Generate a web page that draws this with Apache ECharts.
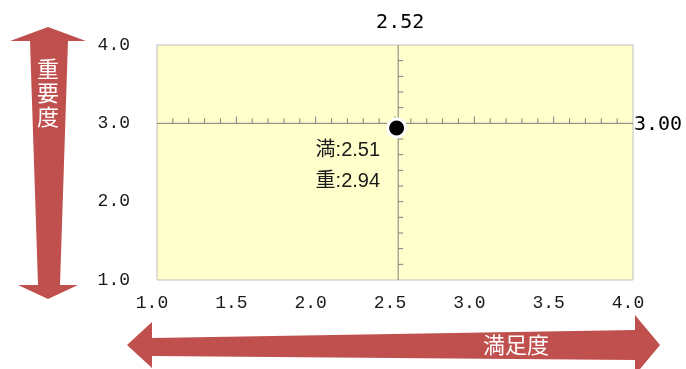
<!DOCTYPE html>
<html><head><meta charset="utf-8">
<script src="https://cdn.jsdelivr.net/npm/echarts@6/dist/echarts.min.js"></script>
<style>html,body{margin:0;padding:0;background:#fff}#c{width:686px;height:369px}</style>
</head><body><div id="c"></div>
<script>
// ---- data ----
const xAxisTitle = '満足度';
const yAxisTitle = '重要度';
const xTickLabels = ['1.0','1.5','2.0','2.5','3.0','3.5','4.0'];
const yTickLabels = ['1.0','2.0','3.0','4.0'];
const satisfaction = [2.51];
const importance = [2.94];
const avgSatisfaction = 2.52;
const avgImportance = 3.00;

const AX_MIN = 1, AX_MAX = 4;
const RED = '#C0504D';
const cjkFont = '"Noto Sans CJK JP", sans-serif';

const chart = echarts.init(document.getElementById('c'));

function renderCross(params, api) {
  const cx = api.value(0), cy = api.value(1);
  const cs = params.coordSys;
  const c = api.coord([cx, cy]);
  const left = cs.x, right = cs.x + cs.width, top = cs.y, bottom = cs.y + cs.height;
  const lineStyle = { stroke: '#7F7F7F', lineWidth: 1 };
  const children = [];
  children.push({ type: 'line', shape: { x1: left, y1: c[1], x2: right, y2: c[1] }, style: lineStyle });
  children.push({ type: 'line', shape: { x1: c[0], y1: top, x2: c[0], y2: bottom }, style: lineStyle });
  // ticks along horizontal crosshair every 0.1 (longer at 0.5)
  for (let i = 1; i < 30; i++) {
    const v = AX_MIN + i * 0.1;
    const p = api.coord([v, cy]);
    const len = (i % 5 === 0) ? 7 : 5;
    children.push({ type: 'line', shape: { x1: p[0], y1: c[1], x2: p[0], y2: c[1] - len }, style: lineStyle });
  }
  // ticks along vertical crosshair every 0.2
  for (let i = 1; i < 15; i++) {
    const v = AX_MIN + i * 0.2;
    const p = api.coord([cx, v]);
    children.push({ type: 'line', shape: { x1: c[0], y1: p[1], x2: c[0] + 5, y2: p[1] }, style: lineStyle });
  }
  const labFont = '20px "DejaVu Sans Mono", monospace';
  children.push({ type: 'text', style: { text: cx.toFixed(2), x: c[0] + 2, y: top - 22, textAlign: 'center', textVerticalAlign: 'middle', font: labFont, fill: '#000' } });
  children.push({ type: 'text', style: { text: cy.toFixed(2), x: right + 1, y: c[1] + 1, textAlign: 'left', textVerticalAlign: 'middle', font: labFont, fill: '#000' } });
  return { type: 'group', children };
}

const option = {
  animation: false,
  grid: { left: 157, right: 53, top: 45, bottom: 89, show: true, backgroundColor: '#FFFFCC', borderColor: '#BFBFBF', borderWidth: 1 },
  xAxis: {
    type: 'value', min: AX_MIN, max: AX_MAX, interval: 0.5,
    axisLine: { show: false }, axisTick: { show: false }, splitLine: { show: false },
    axisLabel: { margin: 14, color: '#1a1a1a', fontFamily: 'Liberation Mono', fontSize: 18, padding: [0, 10, 0, 0],
      formatter: v => xTickLabels[Math.round((v - AX_MIN) / 0.5)] }
  },
  yAxis: {
    type: 'value', min: AX_MIN, max: AX_MAX, interval: 1,
    axisLine: { show: false }, axisTick: { show: false }, splitLine: { show: false },
    axisLabel: { margin: 27, color: '#1a1a1a', fontFamily: 'Liberation Mono', fontSize: 18,
      formatter: v => yTickLabels[Math.round(v - AX_MIN)] }
  },
  series: [
    { type: 'custom', data: [[avgSatisfaction, avgImportance]], renderItem: renderCross, z: 2, silent: true },
    { type: 'scatter', z: 5, symbol: 'circle', symbolSize: 18,
      itemStyle: { color: '#000', borderColor: '#fff', borderWidth: 3, opacity: 1 },
      data: satisfaction.map((s, i) => [s, importance[i]]),
      label: { show: true, position: 'left', distance: 6, offset: [0, 38], align: 'right',
        fontFamily: '"Liberation Sans", "Noto Sans CJK JP", sans-serif', fontSize: 20, color: '#1a1a1a', lineHeight: 31,
        formatter: p => '満:' + p.value[0].toFixed(2) + '\n重:' + p.value[1].toFixed(2) } }
  ],
  graphic: [
    { type: 'polygon', z: 0, shape: { points: [[48,27],[86,41],[68,41],[60,285],[78,285],[48,299],[18,285],[38,285],[30,41],[10,41]] }, style: { fill: RED } },
    { type: 'text', z: 1, style: { text: yAxisTitle.split('').join('\n'), x: 48, y: 57, textAlign: 'center', font: '22px ' + cjkFont, lineHeight: 24, fill: '#fff' } },
    { type: 'polygon', z: 0, shape: { points: [[127,345],[152,322],[152,338],[635,330],[635,315],[660,345],[635,375],[635,360],[152,356],[152,368]] }, style: { fill: RED } },
    { type: 'text', z: 1, style: { text: xAxisTitle, x: 516, y: 345, textAlign: 'center', textVerticalAlign: 'middle', font: '22px ' + cjkFont, fill: '#fff' } }
  ]
};
chart.setOption(option);
</script>
</body></html>
